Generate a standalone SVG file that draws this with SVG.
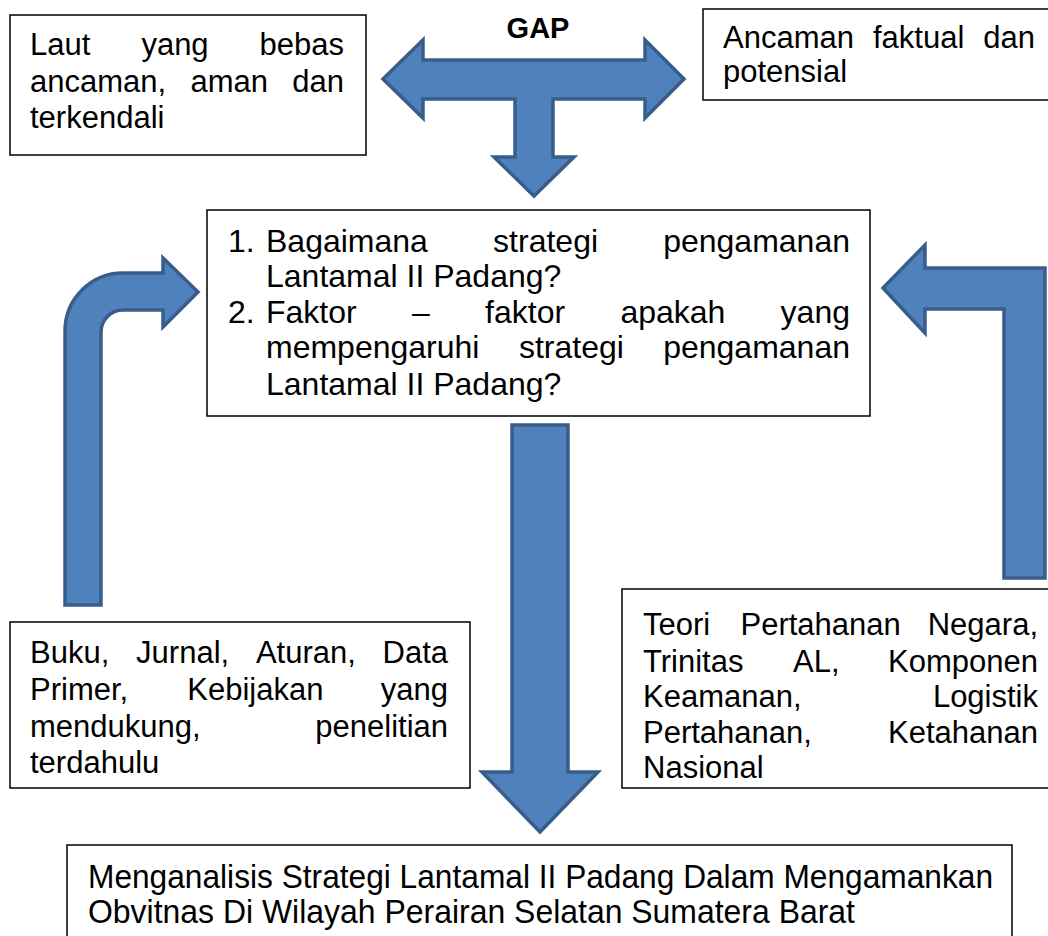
<svg xmlns="http://www.w3.org/2000/svg" width="1048" height="936" viewBox="0 0 1048 936">
<style>
.box{fill:#fff;stroke:#000;stroke-width:1.5}
.arr{fill:#4F81BD;stroke:#385D8A;stroke-width:3.5;stroke-linejoin:miter}
text{font-family:"Liberation Sans",Arial,sans-serif;fill:#000}
.t30{font-size:31px}
.t32{font-size:32px}
.t35{font-size:33px}
.end{text-anchor:end}
.gap{font-size:29px;font-weight:bold;text-anchor:middle}
</style>
<rect width="1048" height="936" fill="#fff"/>
<g id="connectors">
<path class="arr" d="M383,79 L423,40 L423,60 L645,60 L645,40 L684,79 L645,118 L645,99 L553,99 L553,157 L574,157 L534,196 L494,157 L515,157 L515,99 L423,99 L423,118 Z"/>
<path class="arr" d="M65,605 L65,331 A58,58 0 0 1 123,273 L163,273 L163,258 L198,292 L163,327 L163,310 L123,310 A22,22 0 0 0 101,332 L101,605 Z"/>
<path class="arr" d="M883,288 L925,245 L925,268 L1045,268 L1045,578 L1004,578 L1004,309 L925,309 L925,333 Z"/>
<path class="arr" d="M512,425 L568,425 L568,772 L598,772 L540,832 L482,772 L512,772 Z"/>
</g>
<g id="gap-label">
<text class="gap" x="538" y="38">GAP</text>
</g>
<g id="node-laut">
<rect class="box" x="10" y="15" width="356" height="140"/>
<text class="t30" x="30" y="55">Laut</text>
<text class="t30" x="141.4" y="55">yang</text>
<text class="t30 end" x="344" y="55">bebas</text>
<text class="t30" x="30" y="92">ancaman,</text>
<text class="t30" x="190.5" y="92">aman</text>
<text class="t30 end" x="344" y="92">dan</text>
<text class="t30" x="30" y="128">terkendali</text>
</g>
<g id="node-ancaman">
<rect class="box" x="703" y="9" width="350" height="91"/>
<text class="t30" x="723" y="48">Ancaman</text>
<text class="t30" x="873" y="48">faktual</text>
<text class="t30 end" x="1035" y="48">dan</text>
<text class="t30" x="723" y="82">potensial</text>
</g>
<g id="node-rumusan">
<rect class="box" x="207" y="210" width="663" height="206"/>
<text class="t32" x="228" y="252">1.</text>
<text class="t32" x="266" y="252">Bagaimana</text>
<text class="t32" x="493.1" y="252">strategi</text>
<text class="t32 end" x="850" y="252">pengamanan</text>
<text class="t32" x="266" y="287">Lantamal II Padang?</text>
<text class="t32" x="228" y="323">2.</text>
<text class="t32" x="266" y="323">Faktor</text>
<text class="t32" x="412" y="323">–</text>
<text class="t32" x="485.1" y="323">faktor</text>
<text class="t32" x="620.4" y="323">apakah</text>
<text class="t32 end" x="850" y="323">yang</text>
<text class="t32" x="266" y="358">mempengaruhi</text>
<text class="t32" x="518.9" y="358">strategi</text>
<text class="t32 end" x="850" y="358">pengamanan</text>
<text class="t32" x="266" y="395">Lantamal II Padang?</text>
</g>
<g id="node-buku">
<rect class="box" x="10" y="622" width="460" height="166"/>
<text class="t30" x="30" y="663">Buku,</text>
<text class="t30" x="136.1" y="663">Jurnal,</text>
<text class="t30" x="255.9" y="663">Aturan,</text>
<text class="t30 end" x="448" y="663">Data</text>
<text class="t30" x="30" y="700">Primer,</text>
<text class="t30" x="187.3" y="700">Kebijakan</text>
<text class="t30 end" x="448" y="700">yang</text>
<text class="t30" x="30" y="737">mendukung,</text>
<text class="t30 end" x="448" y="737">penelitian</text>
<text class="t30" x="30" y="773">terdahulu</text>
</g>
<g id="node-teori">
<rect class="box" x="622" y="589" width="431" height="199"/>
<text class="t30" x="643" y="635">Teori</text>
<text class="t30" x="740.5" y="635">Pertahanan</text>
<text class="t30 end" x="1038" y="635">Negara,</text>
<text class="t30" x="643" y="672">Trinitas</text>
<text class="t30" x="793.1" y="672">AL,</text>
<text class="t30 end" x="1038" y="672">Komponen</text>
<text class="t30" x="643" y="707">Keamanan,</text>
<text class="t30 end" x="1038" y="707">Logistik</text>
<text class="t30" x="643" y="743">Pertahanan,</text>
<text class="t30 end" x="1038" y="743">Ketahanan</text>
<text class="t30" x="643" y="778">Nasional</text>
</g>
<g id="node-tujuan">
<rect class="box" x="67" y="845" width="945" height="100"/>
<text class="t35" x="88" y="888" textLength="905" lengthAdjust="spacingAndGlyphs">Menganalisis Strategi Lantamal II Padang Dalam Mengamankan</text>
<text class="t35" x="88" y="923" textLength="767" lengthAdjust="spacingAndGlyphs">Obvitnas Di Wilayah Perairan Selatan Sumatera Barat</text>
</g>
</svg>
